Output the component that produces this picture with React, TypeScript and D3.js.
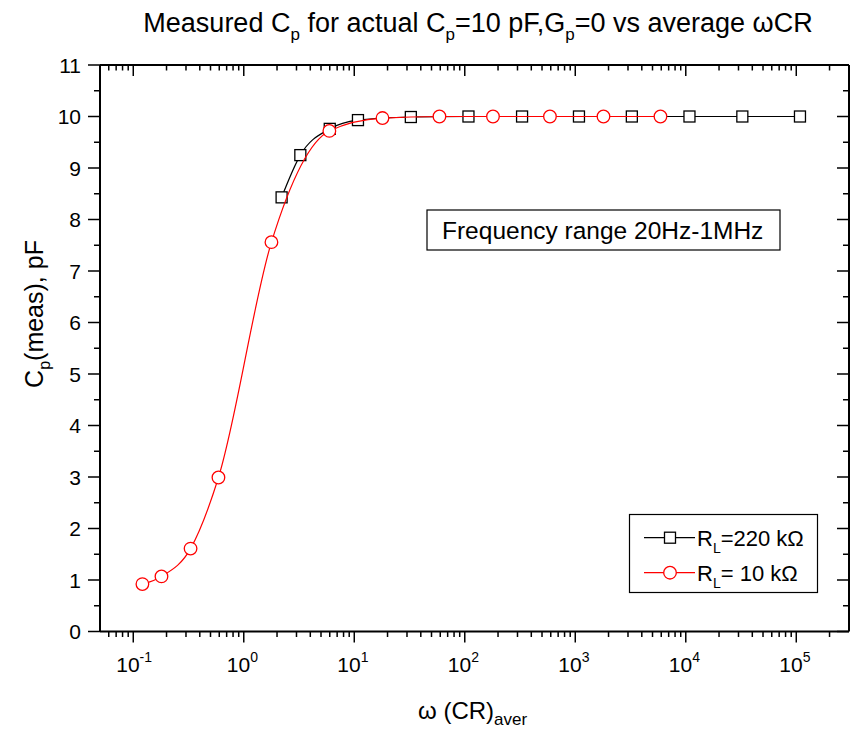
import React from "react";
import * as d3 from "d3";

// R_L = 220 kOhm (black squares)
const blackX = [2.2, 3.25, 6.0, 10.8, 32.5, 108, 330, 1080, 3250, 10800, 32500, 108000];
const blackY = [8.43, 9.25, 9.76, 9.93, 9.99, 10.0, 10.0, 10.0, 10.0, 10.0, 10.0, 10.0];

// R_L = 10 kOhm (red circles)
const redX = [0.121, 0.18, 0.33, 0.59, 1.78, 5.95, 18.0, 59.0, 180, 590, 1800, 5900];
const redY = [0.92, 1.07, 1.61, 2.99, 7.56, 9.72, 9.97, 10.0, 10.0, 10.0, 10.0, 10.0];

const xMajor = [-1, 0, 1, 2, 3, 4, 5];
const yMajor = [0, 1, 2, 3, 4, 5, 6, 7, 8, 9, 10, 11];

const W = 850;
const H = 731;
const left = 100, right = 849, top = 65, bottom = 631.5;
const font = "'Liberation Sans', Arial, sans-serif";

export default function App() {
  const x = d3.scaleLog().domain([0.05, 3e5]).range([left, right]);
  const y = d3.scaleLinear().domain([0, 11]).range([bottom, top]);

  // minor ticks 2..9 of every decade inside the domain
  const xMinor: number[] = [];
  for (let e = -2; e <= 5; e++) {
    for (let k = 2; k <= 9; k++) {
      const v = k * Math.pow(10, e);
      if (v > 0.05 && v < 3e5) xMinor.push(v);
    }
  }
  const yMinor = d3.range(0.5, 11, 1);

  const line = d3
    .line<[number, number]>()
    .x((d) => x(d[0]))
    .y((d) => y(d[1]))
    .curve(d3.curveMonotoneX);

  const blackPts = blackX.map((v, i) => [v, blackY[i]] as [number, number]);
  const redPts = redX.map((v, i) => [v, redY[i]] as [number, number]);

  return (
    <svg width={W} height={H} style={{ position: "absolute", left: 0, top: 0 }} fontFamily={font}>
      <rect width={W} height={H} fill="#fff" />

      {/* title */}
      <text x={478} y={32} fontSize={27} textAnchor="middle" fill="#000">
        Measured C<tspan dy={8} fontSize={17}>p</tspan>
        <tspan dy={-8}> for actual C</tspan>
        <tspan dy={8} fontSize={17}>p</tspan>
        <tspan dy={-8}>=10 pF,G</tspan>
        <tspan dy={8} fontSize={17}>p</tspan>
        <tspan dy={-8}>=0 vs average ωCR</tspan>
      </text>

      {/* curves */}
      <path d={line(blackPts) || ""} fill="none" stroke="#000" strokeWidth={1.2} />
      {blackPts.map((d, i) => (
        <rect key={"b" + i} x={x(d[0]) - 5.5} y={y(d[1]) - 5.5} width={11} height={11} fill="#fff" stroke="#000" strokeWidth={1.3} />
      ))}
      <path d={line(redPts) || ""} fill="none" stroke="#ff0000" strokeWidth={1.2} />
      {redPts.map((d, i) => (
        <circle key={"r" + i} cx={x(d[0])} cy={y(d[1])} r={6.3} fill="#fff" stroke="#ff0000" strokeWidth={1.3} />
      ))}

      {/* frame */}
      <g stroke="#000" strokeWidth={2}>
        <line x1={left} x2={right} y1={bottom} y2={bottom} />
        <line x1={left} x2={right} y1={top} y2={top} />
        <line x1={left} x2={left} y1={top} y2={bottom} />
        <line x1={right} x2={right} y1={top} y2={bottom} />
      </g>

      {/* x ticks: bottom outward, top inward; y ticks: left outward, right inward */}
      <g stroke="#000" strokeWidth={1.5}>
        {xMajor.map((e) => (
          <g key={"xm" + e}>
            <line x1={x(Math.pow(10, e))} x2={x(Math.pow(10, e))} y1={bottom} y2={bottom + 11} />
            <line x1={x(Math.pow(10, e))} x2={x(Math.pow(10, e))} y1={top} y2={top + 11} />
          </g>
        ))}
        {xMinor.map((v, i) => (
          <g key={"xn" + i}>
            <line x1={x(v)} x2={x(v)} y1={bottom} y2={bottom + 5.5} />
            <line x1={x(v)} x2={x(v)} y1={top} y2={top + 5.5} />
          </g>
        ))}
        {yMajor.map((v) => (
          <g key={"ym" + v}>
            <line x1={left - 12} x2={left} y1={y(v)} y2={y(v)} />
            <line x1={right - 12} x2={right} y1={y(v)} y2={y(v)} />
          </g>
        ))}
        {yMinor.map((v, i) => (
          <g key={"yn" + i}>
            <line x1={left - 6} x2={left} y1={y(v)} y2={y(v)} />
            <line x1={right - 6} x2={right} y1={y(v)} y2={y(v)} />
          </g>
        ))}
      </g>

      {/* x tick labels */}
      {xMajor.map((e) => (
        <text key={"xl" + e} x={x(Math.pow(10, e)) - 17} y={672} fontSize={21} fill="#000">
          10<tspan dy={-10} fontSize={14}>{e}</tspan>
        </text>
      ))}

      {/* y tick labels */}
      {yMajor.map((v) => (
        <text key={"yl" + v} x={81} y={y(v) + 7.5} fontSize={21} textAnchor="end" fill="#000">
          {v}
        </text>
      ))}

      {/* axis titles */}
      <text x={418} y={719} fontSize={24} fill="#000">
        ω (CR)<tspan dy={6} fontSize={17}>aver</tspan>
      </text>
      <text transform="translate(43,314) rotate(-90)" fontSize={25} textAnchor="middle" fill="#000">
        C<tspan dy={7} fontSize={16}>p</tspan>
        <tspan dy={-7}>(meas), pF</tspan>
      </text>

      {/* annotation */}
      <rect x={427} y={210} width={353} height={40} fill="#fff" stroke="#000" strokeWidth={1.2} />
      <text x={442} y={239} fontSize={24.5} fill="#000">
        Frequency range 20Hz-1MHz
      </text>

      {/* legend */}
      <rect x={629.5} y={514.5} width={188} height={78} fill="#fff" stroke="#000" strokeWidth={1.2} />
      <line x1={644} x2={695} y1={537.7} y2={537.7} stroke="#000" strokeWidth={1.2} />
      <rect x={664.5} y={532.2} width={11} height={11} fill="#fff" stroke="#000" strokeWidth={1.3} />
      <text x={697} y={545.5} fontSize={22} fill="#000">
        R<tspan dy={7} fontSize={14}>L</tspan>
        <tspan dy={-7}>=220 kΩ</tspan>
      </text>
      <line x1={644} x2={695} y1={572.7} y2={572.7} stroke="#ff0000" strokeWidth={1.2} />
      <circle cx={670} cy={572.7} r={6.3} fill="#fff" stroke="#ff0000" strokeWidth={1.3} />
      <text x={697} y={580.5} fontSize={22} fill="#000">
        R<tspan dy={7} fontSize={14}>L</tspan>
        <tspan dy={-7}>= 10 kΩ</tspan>
      </text>
    </svg>
  );
}
